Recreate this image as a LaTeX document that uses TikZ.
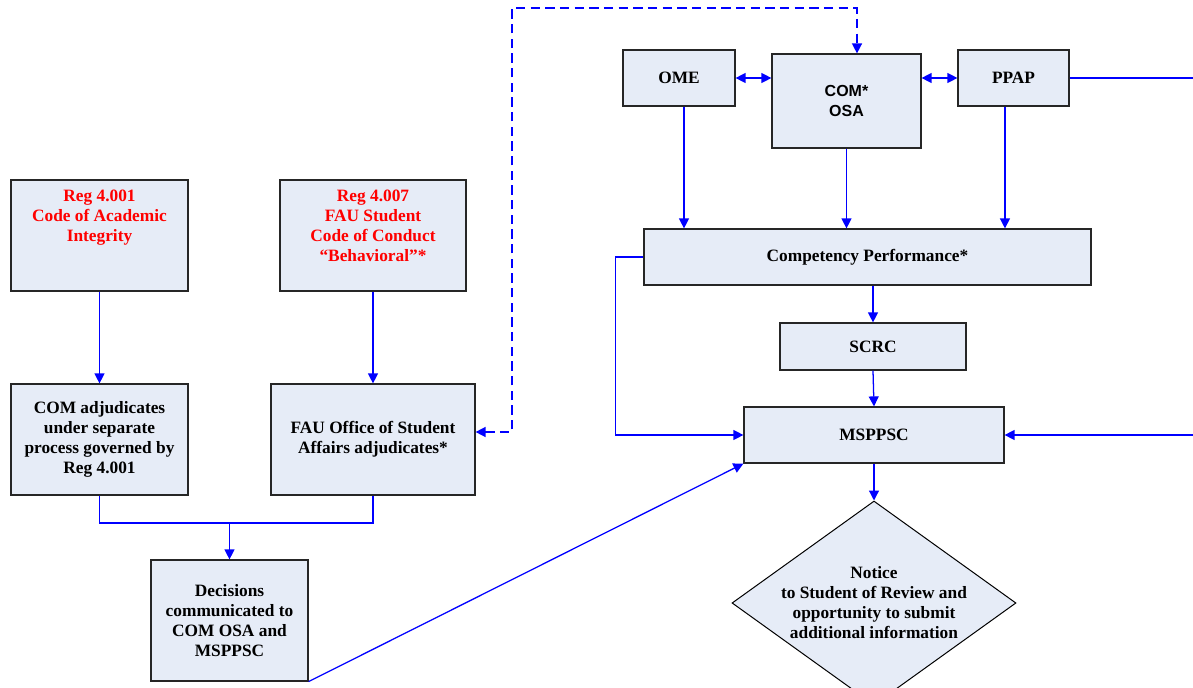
\documentclass[tikz,border=0pt]{standalone}
\usepackage{fontspec}
\setmainfont{Liberation Serif}
\newfontfamily\osafont{Liberation Sans}
\usetikzlibrary{arrows.meta,shapes.geometric}

\definecolor{boxfill}{RGB}{230,236,247}
\definecolor{flowblue}{RGB}{0,0,255}
\definecolor{regred}{RGB}{255,0,0}

\tikzset{every picture/.style={line width=0.75pt}}
\tikzset{
	procbox/.style={draw=black!85, fill=boxfill, line width=0.9pt, inner sep=2pt, align=center, font=\bfseries\fontsize{13}{15}\selectfont},
	regtext/.style={anchor=north, inner sep=7.5pt, align=center, text=regred, font=\bfseries\fontsize{13}{15}\selectfont},
	noticebox/.style={diamond, draw=black, fill=boxfill, line width=0.75pt, inner sep=0pt, minimum width=213pt, minimum height=153pt},
	proctext/.style={inner sep=0pt, align=center, font=\bfseries\fontsize{13}{15}\selectfont},
	flow/.style={draw=flowblue, line width=0.95pt},
	flowarrow/.style={flow, -{Triangle[length=7.5pt,width=7.5pt]}},
	flowboth/.style={flow, {Triangle[length=7.5pt,width=7.5pt]}-{Triangle[length=7.5pt,width=7.5pt]}},
	flowdash/.style={flowboth, line width=1.1pt, dash pattern=on 7pt off 4pt}
}

\begin{document}
\begin{tikzpicture}[x=0.75pt,y=0.75pt,yscale=-1,xscale=1]
		\useasboundingbox (0,0) rectangle (1193,688);
		
		%top row
		\node[procbox, minimum width=84pt, minimum height=42pt] (ome) at (679,78) {OME};
		\node[procbox, font=\osafont\bfseries\fontsize{12}{14.5}\selectfont, minimum width=111.75pt, minimum height=70.5pt] (comosa) at (846.5,101) {COM*\\OSA};
		\node[procbox, minimum width=83.25pt, minimum height=42pt] (ppap) at (1013.5,78) {PPAP};
		
		%right column
		\node[procbox, minimum width=335.25pt, minimum height=42pt] (comp) at (867.5,257) {Competency Performance*};
		\node[procbox, minimum width=139.5pt, minimum height=35.25pt] (scrc) at (873,346.5) {SCRC};
		\node[procbox, minimum width=195pt, minimum height=42pt] (msppsc) at (874,435) {MSPPSC};
		\node[noticebox] (notice) at (874,603) {};
		\node[proctext] (noticetext) at (notice.center) {Notice\\to Student of Review and\\opportunity to submit\\additional information};
		
		%left side
		\node[procbox, minimum width=132.75pt, minimum height=83.25pt, label={[regtext, name=reg1text]north:{Reg 4.001\\Code of Academic\\Integrity}}] (reg1) at (99.5,235.5) {};
		\node[procbox, minimum width=139.5pt, minimum height=83.25pt, label={[regtext, name=reg2text]north:{Reg 4.007\\FAU Student\\Code of Conduct\\“Behavioral”*}}] (reg2) at (373,235.5) {};
		\node[procbox, minimum width=132.75pt, minimum height=83.25pt] (comadj) at (99.5,439.5) {COM adjudicates\\under separate\\process governed by\\Reg 4.001};
		\node[procbox, minimum width=153pt, minimum height=83.25pt] (fauoff) at (373,439.5) {FAU Office of Student\\Affairs adjudicates*};
		\node[procbox, minimum width=117.75pt, minimum height=90.75pt] (decide) at (229.5,620.5) {Decisions\\communicated to\\COM OSA and\\MSPPSC};
		
		\coordinate (merge) at (229.5,523);
		\coordinate (dashbend) at (512,432);
		\coordinate (dashtop) at (857,8);
		\coordinate (rightend1) at (1193,78);
		\coordinate (rightend2) at (1193,435);
		
		%connectors
		\draw[flowboth] (ome.east) -- (ome.east -| comosa.west);
		\draw[flowboth] (comosa.east |- ppap.west) -- (ppap.west);
		\draw[flow] (ppap.east) -- (rightend1);
		\draw[flowarrow] ([xshift=3.75pt]ome.south) -- ([xshift=3.75pt]ome.south |- comp.north);
		\draw[flowarrow] (comosa.south) -- (comosa.south |- comp.north);
		\draw[flowarrow] ([xshift=-6.4pt]ppap.south) -- ([xshift=-6.4pt]ppap.south |- comp.north);
		\draw[flowarrow] (comp.south -| scrc.north) -- (scrc.north);
		\draw[flowarrow] (scrc.south) -- (msppsc.north);
		\draw[flowarrow] (comp.west) -- ++(-28,0) |- (msppsc.west);
		\draw[flowarrow] (rightend2) -- (msppsc.east);
		\draw[flowarrow] (msppsc.south) -- (notice.north);
		
		\draw[flowarrow] (reg1) -- (comadj);
		\draw[flowarrow] (reg2) -- (fauoff);
		\draw[flow] (comadj.south) |- (fauoff.south |- merge) -- (fauoff.south);
		\draw[flowarrow] (merge) -- (decide);
		\draw[flowarrow] (decide.south east) -- (msppsc.south west);
		\draw[flowdash] (fauoff.east |- dashbend) -- (dashbend) |- (dashtop) -- (dashtop |- comosa.north);
		
	\end{tikzpicture}
\end{document}
